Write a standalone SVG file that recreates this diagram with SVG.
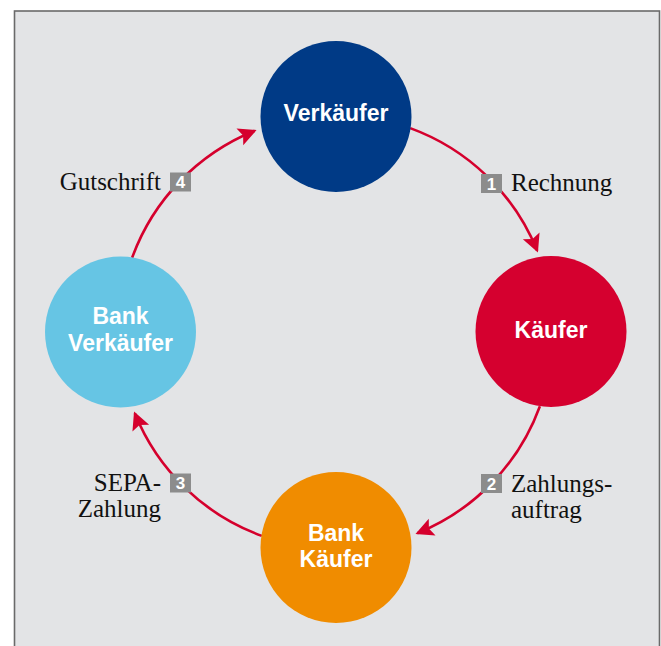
<svg xmlns="http://www.w3.org/2000/svg" width="661" height="646" viewBox="0 0 661 646">
<style>
.frame{fill:#e3e4e6;stroke:#6a6a6a;stroke-width:1.6}
.arc{fill:none;stroke:#d5002d;stroke-width:2.6}
.node-text{font-family:"Liberation Sans",Arial,sans-serif;font-weight:bold;font-size:23px;fill:#ffffff;text-anchor:middle}
.label{font-family:"Liberation Serif","Times New Roman",serif;font-size:25px;fill:#111111}
.badge rect{fill:#8c8c8c}
.badge text{font-family:"Liberation Sans",Arial,sans-serif;font-weight:bold;font-size:17px;fill:#ffffff;text-anchor:middle}
</style>
<defs>
<marker id="head" markerUnits="userSpaceOnUse" viewBox="-20 -11 24 22" markerWidth="24" markerHeight="22" refX="0" refY="0" orient="auto" overflow="visible">
<path d="M2,0 L-16,-9 L-12.5,0 L-16,9 Z" fill="#d5002d"/>
</marker>
</defs>
<rect class="frame" x="14.5" y="11" width="645" height="700"/>
<g id="connectors">
<path class="arc" d="M410.2,128.1 A217,217 0 0 1 537.2,250.7" marker-end="url(#head)"/>
<path class="arc" d="M539.9,406.2 A217,217 0 0 1 417.3,533.2" marker-end="url(#head)"/>
<path class="arc" d="M261.8,535.9 A217,217 0 0 1 134.8,413.3" marker-end="url(#head)"/>
<path class="arc" d="M132.1,257.8 A217,217 0 0 1 254.7,130.8" marker-end="url(#head)"/>
</g>
<g id="node-verkaeufer">
<circle cx="336" cy="116.5" r="75.5" fill="#003a86"/>
<text class="node-text" x="336" y="121">Verkäufer</text>
</g>
<g id="node-kaeufer">
<circle cx="551" cy="331.5" r="75.5" fill="#d5002f"/>
<text class="node-text" x="551" y="338">Käufer</text>
</g>
<g id="node-bank-kaeufer">
<circle cx="336" cy="547.5" r="75.5" fill="#f08c00"/>
<text class="node-text" x="336" y="541">Bank</text>
<text class="node-text" x="336" y="567">Käufer</text>
</g>
<g id="node-bank-verkaeufer">
<circle cx="120.5" cy="332" r="75.5" fill="#66c5e4"/>
<text class="node-text" x="120.5" y="324">Bank</text>
<text class="node-text" x="120.5" y="351">Verkäufer</text>
</g>
<g id="label-1">
<g class="badge"><rect x="481" y="174" width="21" height="19"/><text x="491.5" y="189.5">1</text></g>
<text class="label" x="511" y="191">Rechnung</text>
</g>
<g id="label-2">
<g class="badge"><rect x="481" y="474" width="21" height="19"/><text x="491.5" y="489.5">2</text></g>
<text class="label" x="511" y="492">Zahlungs-</text>
<text class="label" x="511" y="518">auftrag</text>
</g>
<g id="label-3">
<g class="badge"><rect x="170" y="473.5" width="21" height="19"/><text x="180.5" y="489">3</text></g>
<text class="label" x="161" y="491" text-anchor="end">SEPA-</text>
<text class="label" x="161" y="517" text-anchor="end">Zahlung</text>
</g>
<g id="label-4">
<g class="badge"><rect x="170" y="172.5" width="21" height="19"/><text x="180.5" y="188">4</text></g>
<text class="label" x="161" y="190" text-anchor="end">Gutschrift</text>
</g>
</svg>
